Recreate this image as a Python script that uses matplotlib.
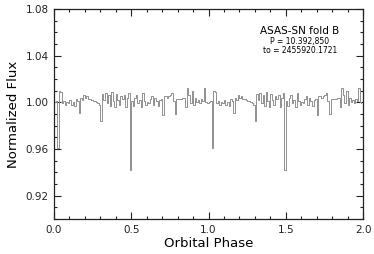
import numpy as np
import matplotlib
matplotlib.use("Agg")
import matplotlib.pyplot as plt
from matplotlib.ticker import MultipleLocator

# binned flux for one orbital cycle, bin width 0.01 in phase
bin_width = 0.01
flux_cycle = [
    1.000, 1.001, 0.961, 1.010, 1.009, 0.999, 1.001, 0.998, 1.000, 0.999,
    1.002, 0.998, 1.000, 0.997, 1.003, 1.001, 0.991, 1.004, 1.002, 1.006,
    1.004, 1.005, 1.003, 1.003, 1.002, 1.001, 1.001, 1.000, 0.999, 0.998,
    0.984, 1.007, 1.002, 1.008, 0.999, 1.006, 0.997, 1.009, 1.001, 0.996,
    1.007, 1.002, 0.998, 1.005, 1.003, 1.006, 0.996, 1.004, 1.008, 0.942,
    1.001, 0.997, 1.004, 1.006, 0.999, 1.002, 0.996, 1.008, 1.001, 0.998,
    1.000, 0.999, 1.003, 1.005, 0.998, 1.004, 1.001, 0.997, 1.002, 1.003,
    0.989, 1.005, 1.005, 1.004, 1.005, 1.006, 1.008, 1.001, 0.990, 1.003,
    1.003, 1.003, 1.003, 1.004, 1.004, 0.996, 1.012, 1.006, 0.999, 1.010,
    0.998, 1.004, 1.000, 1.002, 0.999, 1.003, 1.001, 1.012, 1.000, 0.999,
]
n_cycles = 2

flux = np.tile(flux_cycle, n_cycles)
phase = np.arange(len(flux)) * bin_width

fig = plt.figure(figsize=(3.74, 2.54), dpi=100)
ax = fig.add_axes([0.1444, 0.1378, 0.8262, 0.8268])

ax.step(phase, flux, where="post", color="#909090", lw=0.7)

ax.set_xlim(0, 2.0)
ax.set_ylim(0.90, 1.08)
ax.xaxis.set_minor_locator(MultipleLocator(0.1))
ax.yaxis.set_minor_locator(MultipleLocator(0.01))
ax.set_yticks([0.92, 0.96, 1.00, 1.04, 1.08])
ax.set_yticklabels(["0.92", "0.96", "1.00", "1.04", "1.08"])
ax.set_xticks([0.0, 0.5, 1.0, 1.5, 2.0])
ax.set_xticklabels(["0.0", "0.5", "1.0", "1.5", "2.0"])

ax.tick_params(which="both", direction="in", top=True, right=True,
               labelsize=7.5, colors="#222222", width=0.8)
ax.tick_params(which="major", length=5, pad=4)
ax.tick_params(which="minor", length=2.5)
for s in ax.spines.values():
    s.set_linewidth(0.9)
    s.set_color("#222222")

ax.set_xlabel("Orbital Phase", fontsize=9.5, labelpad=2)
ax.set_ylabel("Normalized Flux", fontsize=9.5, labelpad=4)

ax.text(0.796, 0.895, "ASAS-SN fold B", transform=ax.transAxes,
        ha="center", va="center", fontsize=7.5)
ax.text(0.796, 0.843, "P = 10.392,850", transform=ax.transAxes,
        ha="center", va="center", fontsize=5.5)
ax.text(0.796, 0.800, "to = 2455920.1721", transform=ax.transAxes,
        ha="center", va="center", fontsize=5.5)

fig.savefig("out.png", dpi=100)
